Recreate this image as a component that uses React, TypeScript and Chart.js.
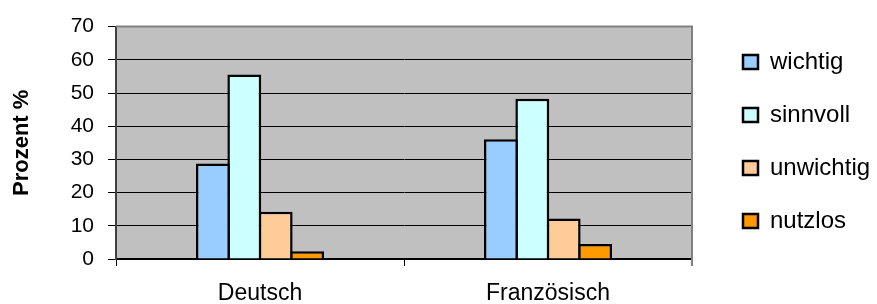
import React, { useEffect, useRef } from "react";
import { Chart, registerables } from "chart.js";

Chart.register(...registerables);

const categories = ["Deutsch", "Französisch"];
const seriesNames = ["wichtig", "sinnvoll", "unwichtig", "nutzlos"];
const wichtig = [28.8, 36.1];
const sinnvoll = [55.6, 48.3];
const unwichtig = [14.2, 12.2];
const nutzlos = [2.3, 4.5];
const seriesColors = ["#99CCFF", "#CCFFFF", "#FFCC99", "#FF9900"];
const yTicks = [0, 10, 20, 30, 40, 50, 60, 70];
const yTitle = "Prozent %";

const FONT = "'Liberation Sans', Arial, Helvetica, sans-serif";

const plotDecor = {
  id: "plotDecor",
  beforeDraw(chart: any) {
    const { ctx, chartArea: a } = chart;
    ctx.save();
    ctx.fillStyle = "#C0C0C0";
    ctx.fillRect(a.left, a.top, a.right - a.left, a.bottom - a.top);
    ctx.restore();
  },
  beforeDatasetsDraw(chart: any) {
    const { ctx, chartArea: a } = chart;
    ctx.save();
    ctx.strokeStyle = "#808080";
    ctx.lineWidth = 2;
    ctx.beginPath();
    ctx.moveTo(a.left, a.top);
    ctx.lineTo(a.right, a.top);
    ctx.lineTo(a.right, a.bottom + 7);
    ctx.stroke();
    ctx.restore();
  },
  afterInit(chart: any) {
    const lg = chart.legend;
    if (lg && !lg.__patched) {
      const orig = lg.fit.bind(lg);
      lg.fit = function () {
        orig();
        this.width = 185;
      };
      lg.__patched = true;
    }
  },
  afterLayout(chart: any) {
    const lg = chart.legend;
    if (lg) {
      lg.left = chart.chartArea.right + 22;
      lg.right = lg.left + lg.width;
      lg.top = 21;
    }
  },
};

export default function App() {
  const ref = useRef<HTMLCanvasElement | null>(null);

  useEffect(() => {
    if (!ref.current) return;
    Chart.defaults.color = "#000";
    const data = [wichtig, sinnvoll, unwichtig, nutzlos];
    const chart = new Chart(ref.current, {
      type: "bar",
      data: {
        labels: categories,
        datasets: seriesNames.map((name, i) => ({
          label: name,
          data: data[i],
          backgroundColor: seriesColors[i],
          borderColor: "#000",
          borderWidth: 2.5,
          categoryPercentage: 0.4358,
          barPercentage: 1.0797,
        })),
      },
      options: {
        animation: false,
        responsive: true,
        maintainAspectRatio: false,
        layout: { padding: { top: 24, right: 0, left: 0, bottom: 0 } },
        plugins: {
          tooltip: { enabled: false },
          legend: {
            position: "right",
            align: "start",
            labels: {
              boxWidth: 15,
              boxHeight: 14,
              padding: 29,
              color: "#000",
              font: { family: FONT, size: 24 },
            },
          },
        },
        scales: {
          x: {
            offset: true,
            afterFit(scale: any) {
              scale.height = 45;
            },
            grid: {
              drawOnChartArea: false,
              drawTicks: true,
              tickLength: 7,
              color: "#000",
              offset: true,
            },
            border: { display: true, color: "#000", width: 2 },
            ticks: {
              color: "#000",
              padding: 14,
              font: { family: FONT, size: 23 },
            },
          },
          y: {
            min: 0,
            max: 70,
            afterFit(scale: any) {
              scale.width = 116;
            },
            afterBuildTicks(scale: any) {
              scale.ticks = yTicks.map((v) => ({ value: v }));
            },
            grid: {
              color: "#000",
              lineWidth: 1,
              drawTicks: true,
              tickLength: 8,
            },
            border: { display: true, color: "#404040", width: 2 },
            ticks: {
              color: "#000",
              padding: 14,
              font: { family: FONT, size: 21 },
            },
            title: {
              display: true,
              text: yTitle,
              color: "#000",
              padding: { top: 9, bottom: 0 },
              font: { family: FONT, size: 22, weight: "bold" },
            },
          },
        },
      },
      plugins: [plotDecor],
    });
    return () => chart.destroy();
  }, []);

  return (
    <div style={{ position: "fixed", left: 0, top: 0, width: 877, height: 304 }}>
      <canvas ref={ref} />
    </div>
  );
}
